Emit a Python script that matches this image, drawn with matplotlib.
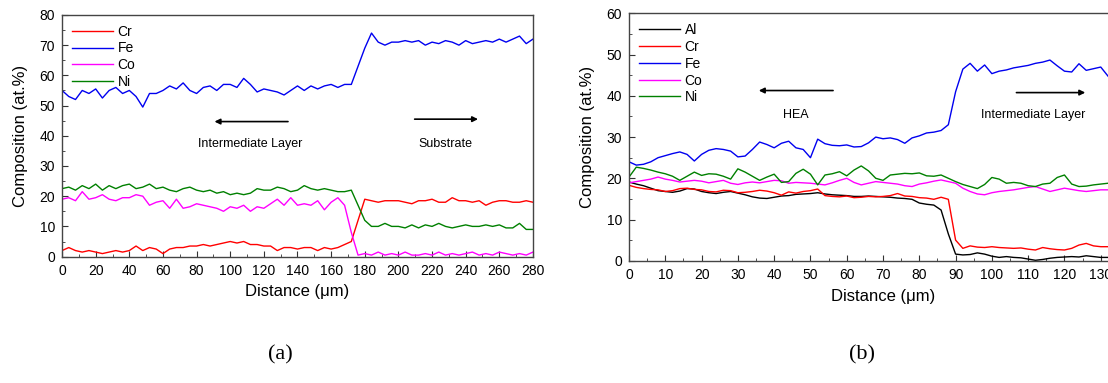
import numpy as np
import matplotlib
matplotlib.use("Agg")
import matplotlib.pyplot as plt
from matplotlib.ticker import MultipleLocator, FixedLocator

plt.rcParams['font.family'] = ['Liberation Sans', 'DejaVu Sans']

# ---- panel (a): Cr/Fe/Co/Ni line scan, sampled every 4 um ----
dist_a = np.arange(0, 284, 4)
cr_a = [2, 3, 2, 1.5, 2, 1.5, 1, 1.5, 2, 1.5,
        2, 3.5, 2, 3, 2.5, 1, 2.5, 3, 3, 3.5,
        3.5, 4, 3.5, 4, 4.5, 5, 4.5, 5, 4, 4,
        3.5, 3.5, 2, 3, 3, 2.5, 3, 3, 2, 3,
        2.5, 3, 4, 5, 12, 19, 18.5, 18, 18.5, 18.5,
        18.5, 18, 17.5, 18.5, 18.5, 19, 18, 18, 19.5, 18.5,
        18.5, 18, 18.5, 17, 18, 18.5, 18.5, 18, 18, 18.5,
        18]
fe_a = [55, 53, 52, 55, 54, 55.5, 52.5, 55, 56, 54,
        55, 53, 49.5, 54, 54, 55, 56.5, 55.5, 57.5, 55,
        54, 56, 56.5, 55, 57, 57, 56, 59, 57, 54.5,
        55.5, 55, 54.5, 53.5, 55, 56.5, 55, 56.5, 55.5, 56.5,
        57, 56, 57, 57, 63, 69, 74, 71, 70, 71,
        71, 71.5, 71, 71.5, 70, 71, 70.5, 71.5, 71, 70,
        71.5, 70.5, 71, 71.5, 71, 72, 71, 72, 73, 70.5,
        72]
co_a = [19, 19.5, 18.5, 21.5, 19, 19.5, 20.5, 19, 18.5, 19.5,
        19.5, 20.5, 20, 17, 18, 18.5, 16, 19, 16, 16.5,
        17.5, 17, 16.5, 16, 15, 16.5, 16, 17, 15, 16.5,
        16, 17.5, 19, 17, 19.5, 17, 17.5, 17, 18.5, 15.5,
        18, 19.5, 17, 8, 0.5, 1, 0.5, 1.5, 0.5, 1,
        0.5, 1.5, 0.5, 0.5, 1, 0.5, 1.5, 0.5, 1, 0.5,
        1, 1.5, 0.5, 1, 0.5, 1.5, 1, 0.5, 1, 0.5,
        1.5]
ni_a = [22.5, 23, 22, 23.5, 22.5, 24, 22, 23.5, 22.5, 23.5,
        24, 22.5, 23, 24, 22.5, 23, 22, 21.5, 22.5, 23,
        22, 21.5, 22, 21, 21.5, 20.5, 21, 20.5, 21, 22.5,
        22, 22, 23, 22.5, 21.5, 22, 23.5, 22.5, 22, 22.5,
        22, 21.5, 21.5, 22, 17, 12, 10, 10, 11, 10,
        10, 9.5, 10.5, 9.5, 10.5, 10, 11, 10, 9.5, 10,
        10.5, 10, 10, 10.5, 10, 10.5, 9.5, 9.5, 11, 9,
        9]

# ---- panel (b): Al/Cr/Fe/Co/Ni line scan, sampled every 2 um ----
dist_b = np.arange(0, 134, 2)
al_b = [19.1, 18.6, 18.2, 17.6, 17.0, 16.8, 16.6, 16.9, 17.5, 17.4,
        16.8, 16.5, 16.3, 16.6, 16.8, 16.4, 16.0, 15.5, 15.2, 15.1,
        15.4, 15.7, 15.8, 16.1, 16.2, 16.3, 16.5, 16.2, 16.0, 15.9,
        15.8, 15.6, 15.6, 15.7, 15.6, 15.5, 15.4, 15.2, 15.1, 14.9,
        14.0, 13.7, 13.5, 12.3, 6.5, 1.6, 1.4, 1.5, 1.9, 1.6,
        1.1, 0.8, 1.0, 0.8, 0.7, 0.4, 0.1, 0.3, 0.6, 0.8,
        0.9, 1.0, 0.9, 1.2, 1.0, 0.8, 0.8]
cr_b = [18.3, 17.8, 17.5, 17.3, 17.2, 16.8, 17.0, 17.5, 17.6, 17.3,
        17.2, 16.8, 16.7, 17.1, 17.0, 16.5, 16.6, 16.8, 17.1, 16.9,
        16.5, 15.9, 16.7, 16.4, 16.8, 17.0, 17.4, 15.8, 15.6, 15.5,
        15.7, 15.3, 15.4, 15.6, 15.5, 15.6, 15.8, 16.3, 15.7, 15.6,
        15.3, 15.2, 14.9, 15.4, 14.9, 5.0, 3.0, 3.6, 3.3, 3.2,
        3.4, 3.2, 3.1, 3.0, 3.1, 2.8, 2.6, 3.2, 2.9, 2.7,
        2.6, 3.0, 3.8, 4.2, 3.6, 3.4, 3.4]
fe_b = [24.0, 23.2, 23.4, 24.0, 25.0, 25.5, 26.0, 26.4, 25.8, 24.2,
        25.8, 26.8, 27.2, 27.0, 26.6, 25.2, 25.4, 27.0, 28.8, 28.2,
        27.4, 28.5, 29.0, 27.4, 27.0, 25.0, 29.5, 28.4, 28.0, 27.9,
        28.1, 27.6, 27.7, 28.6, 30.0, 29.6, 29.8, 29.4, 28.5, 29.8,
        30.3, 31.0, 31.2, 31.6, 33.0, 41.0, 46.5, 47.9, 46.0, 47.5,
        45.4, 46.0, 46.3, 46.8, 47.1, 47.4, 47.9, 48.2, 48.7, 47.3,
        46.0, 45.8, 47.8, 46.2, 46.6, 47.0, 44.8]
co_b = [18.9, 19.2, 19.5, 19.8, 20.3, 19.8, 19.5, 19.1, 19.3, 19.5,
        19.3, 18.9, 19.2, 19.5, 18.8, 18.5, 18.9, 19.1, 18.9, 19.2,
        19.5, 19.4, 18.8, 19.0, 18.9, 18.8, 18.6, 18.4, 18.9, 19.5,
        20.0, 19.0, 18.4, 18.8, 19.2, 19.0, 18.8, 18.6, 18.2, 18.0,
        18.6, 18.9, 19.3, 19.6, 19.2, 18.8, 17.6, 16.8, 16.2, 16.0,
        16.5, 16.8, 17.0, 17.2, 17.5, 17.8, 18.0, 17.4, 16.8, 17.2,
        17.6, 17.3, 17.0, 16.8, 17.0, 17.2, 17.2]
ni_b = [20.3, 22.7, 22.4, 22.0, 21.5, 21.1, 20.5, 19.5, 20.5, 21.5,
        20.7, 21.1, 21.0, 20.5, 19.8, 22.3, 21.5, 20.5, 19.5, 20.3,
        21.0, 19.0, 19.2, 21.2, 22.2, 21.0, 18.4, 20.8, 21.1, 21.6,
        20.6, 22.0, 23.0, 21.8, 20.0, 19.5, 20.8, 21.0, 21.2, 21.1,
        21.3, 20.6, 20.5, 20.8, 20.0, 19.2, 18.5, 18.0, 17.5, 18.5,
        20.2, 19.8, 18.8, 19.0, 18.8, 18.2, 18.0, 18.6, 18.8, 20.2,
        20.8, 18.6, 18.0, 18.1, 18.4, 18.6, 18.8]

fig = plt.figure(figsize=(11.08, 3.83), dpi=100)
ax1 = fig.add_axes([0.056, 0.330, 0.425, 0.631])
ax2 = fig.add_axes([0.5677, 0.3193, 0.4585, 0.6455])

lw = 1.0
ax1.plot(dist_a, cr_a, color='#ff0000', lw=lw, label='Cr')
ax1.plot(dist_a, fe_a, color='#0000f0', lw=lw, label='Fe')
ax1.plot(dist_a, co_a, color='#ff00ff', lw=lw, label='Co')
ax1.plot(dist_a, ni_a, color='#008000', lw=lw, label='Ni')
ax1.set_xlim(0, 280)
ax1.set_ylim(0, 80)
ax1.xaxis.set_major_locator(MultipleLocator(20))
ax1.xaxis.set_minor_locator(MultipleLocator(10))
ax1.yaxis.set_major_locator(MultipleLocator(10))
ax1.yaxis.set_minor_locator(MultipleLocator(5))

ax2.plot(dist_b, al_b, color='#000000', lw=lw, label='Al')
ax2.plot(dist_b, cr_b, color='#ff0000', lw=lw, label='Cr')
ax2.plot(dist_b, fe_b, color='#0000f0', lw=lw, label='Fe')
ax2.plot(dist_b, co_b, color='#ff00ff', lw=lw, label='Co')
ax2.plot(dist_b, ni_b, color='#008000', lw=lw, label='Ni')
ax2.set_xlim(0, 140)
ax2.set_ylim(0, 60)
ax2.xaxis.set_major_locator(FixedLocator(range(0, 140, 10)))
ax2.xaxis.set_minor_locator(MultipleLocator(5))
ax2.yaxis.set_major_locator(MultipleLocator(10))
ax2.yaxis.set_minor_locator(MultipleLocator(5))

for ax in (ax1, ax2):
    ax.tick_params(which='both', direction='in', labelsize=10, color='#333333')
    ax.tick_params(which='major', length=4, pad=5)
    ax.tick_params(which='minor', length=2.5)
    for s in ax.spines.values():
        s.set_color('#444444')
        s.set_linewidth(1.0)
    ax.set_xlabel('Distance (\u03bcm)', fontsize=12, labelpad=5)
    ax.set_ylabel('Composition (at.%)', fontsize=12, labelpad=8)
    ax.legend(loc='upper left', frameon=False, fontsize=10, handlelength=3,
              handletextpad=0.3, labelspacing=0.2, borderaxespad=0.3)

arr = dict(arrowstyle='-|>', color='black', lw=1.2, mutation_scale=8)
ax1.annotate('', xy=(89, 44.7), xytext=(136, 44.7), arrowprops=arr)
ax1.text(112, 37.3, 'Intermediate Layer', ha='center', va='center', fontsize=9)
ax1.annotate('', xy=(249, 45.5), xytext=(208, 45.5), arrowprops=arr)
ax1.text(228, 37.3, 'Substrate', ha='center', va='center', fontsize=9)

ax2.annotate('', xy=(35, 41.3), xytext=(57, 41.3), arrowprops=arr)
ax2.text(46, 35.4, 'HEA', ha='center', va='center', fontsize=9)
ax2.annotate('', xy=(126.5, 40.8), xytext=(106, 40.8), arrowprops=arr)
ax2.text(111.5, 35.4, 'Intermediate Layer', ha='center', va='center', fontsize=9)

fig.text(280 / 1108, 1 - 355 / 383, '(a)', family='Liberation Serif',
         fontsize=16, ha='center', va='center')
fig.text(862 / 1108, 1 - 355 / 383, '(b)', family='Liberation Serif',
         fontsize=16, ha='center', va='center')

fig.savefig('out.png', dpi=100)
